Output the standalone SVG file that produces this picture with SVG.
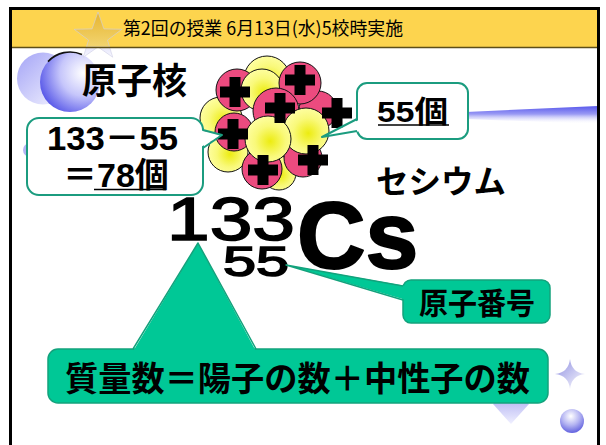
<svg xmlns="http://www.w3.org/2000/svg" width="606" height="445" viewBox="0 0 606 445">
  <defs>
    <style>
      .jp { font-family: "Noto Sans CJK JP", sans-serif; }
      .num { font-family: "Liberation Sans", "Noto Sans CJK JP", sans-serif; font-weight: bold; }
      .numlight { font-family: "Liberation Sans", sans-serif; font-weight: normal; stroke: #000; stroke-width: 1.6; }
      .bold { font-weight: bold; }
      .callout-white { fill: #ffffff; stroke: #1b9c7f; stroke-width: 2; }
      .callout-green { fill: #00c896; stroke: #13a27c; stroke-width: 1.5; }
      .ptr-white-fill { fill: #ffffff; stroke: none; }
      .ptr-green-fill { fill: #00c896; stroke: none; }
      .ptr-white-edge { fill: none; stroke: #1b9c7f; stroke-width: 2; stroke-linejoin: round; }
      .ptr-green-edge { fill: none; stroke: #13a27c; stroke-width: 1.5; stroke-linejoin: round; }
      .proton { fill: #ec4b7f; stroke: #111; stroke-width: 1; }
      .neutron { fill: url(#gNeutron); stroke: #111; stroke-width: 1; }
      .plus { fill: #000; }
      .uline { stroke: #000; stroke-width: 1.6; }
    </style>
    <radialGradient id="gNeutron" cx="0.55" cy="0.55" r="0.6">
      <stop offset="0" stop-color="#ecec10"/>
      <stop offset="0.55" stop-color="#f9f97a"/>
      <stop offset="1" stop-color="#ffffa8"/>
    </radialGradient>
    <linearGradient id="gStar" x1="0" y1="0" x2="0" y2="1">
      <stop offset="0" stop-color="#e6b42e"/>
      <stop offset="0.76" stop-color="#f2d470"/>
      <stop offset="0.775" stop-color="#e6e6fb"/>
      <stop offset="1" stop-color="#f8f8ff"/>
    </linearGradient>
    <linearGradient id="gBubbleA" x1="0" y1="0" x2="1" y2="1">
      <stop offset="0" stop-color="#a4a4f6"/>
      <stop offset="1" stop-color="#f6f6ff"/>
    </linearGradient>
    <radialGradient id="gBubbleB" cx="0.72" cy="0.35" r="0.85">
      <stop offset="0" stop-color="#ffffff"/>
      <stop offset="0.45" stop-color="#c6c6fb"/>
      <stop offset="1" stop-color="#4040e4"/>
    </radialGradient>
    <linearGradient id="gStreak" x1="0" y1="0" x2="0" y2="1">
      <stop offset="0" stop-color="#5858ec"/>
      <stop offset="0.45" stop-color="#9a9af4"/>
      <stop offset="1" stop-color="#ffffff" stop-opacity="0"/>
    </linearGradient>
    <linearGradient id="gSpark" x1="0" y1="0" x2="1" y2="1">
      <stop offset="0" stop-color="#8c8ce0"/>
      <stop offset="1" stop-color="#ffffff"/>
    </linearGradient>
    <linearGradient id="gGem" x1="0" y1="0" x2="0" y2="1">
      <stop offset="0" stop-color="#9a9aec"/>
      <stop offset="1" stop-color="#f0f0ff"/>
    </linearGradient>
    <radialGradient id="gSphere" cx="0.45" cy="0.3" r="0.75">
      <stop offset="0" stop-color="#ffffff"/>
      <stop offset="0.5" stop-color="#b4b4f2"/>
      <stop offset="1" stop-color="#5656dc"/>
    </radialGradient>
    <path id="plusShape" d="M-5.5,-15 h11 v9.5 h9.5 v11 h-9.5 v9.5 h-11 v-9.5 h-9.5 v-11 h9.5 z"/>
  </defs>

  <!-- slide background and frame -->
  <rect x="0" y="0" width="606" height="445" fill="#ffffff"/>

  <!-- decorative shapes -->
  <g id="decor">
    <circle cx="43" cy="78.5" r="26" fill="url(#gBubbleA)"/>
    <circle cx="70" cy="82" r="30" fill="url(#gBubbleB)"/>
    <path d="M48,61.6 A30,30 0 0 1 82,54.5" fill="none" stroke="#111" stroke-width="1.6"/>
    <circle cx="30" cy="150" r="7" fill="#b4b4f4"/>
    <polygon points="466,112 598,106 598,124 466,119" fill="url(#gStreak)"/>
    <path d="M570,359 Q571.5,372.5 585,374 Q571.5,375.5 570,389 Q568.5,375.5 555,374 Q568.5,372.5 570,359 Z" fill="url(#gSpark)"/>
    <polygon points="493,404 511,387 529,404 511,424" fill="url(#gGem)"/>
    <circle cx="572" cy="421" r="12" fill="url(#gSphere)"/>
  </g>

  <!-- title bar -->
  <g id="header">
    <rect x="12" y="10" width="585" height="37" fill="#fdd44e"/>
    <polygon points="98,12 103.9,28.9 121.8,29.3 107.5,40.1 112.7,57.2 98,47 83.3,57.2 88.5,40.1 74.2,29.3 92.1,28.9" fill="url(#gStar)" stroke="#cfcfe4" stroke-width="0.6"/>
    <line x1="12" y1="47.5" x2="597" y2="47.5" stroke="#5e4e18" stroke-width="1.5"/>
    <text class="jp" x="123" y="35" font-size="18" fill="#000" textLength="280" lengthAdjust="spacingAndGlyphs">第2回の授業 6月13日(水)5校時実施</text>
  </g>

  <rect x="10.5" y="8.5" width="588" height="445" fill="none" stroke="#000" stroke-width="3"/>

  <!-- nucleus: protons (pink, +) and neutrons (yellow) -->
  <g id="nucleus">
    <circle class="neutron" cx="267" cy="79" r="23"/>
    <circle class="neutron" cx="221" cy="118" r="21"/>
    <circle class="neutron" cx="228" cy="152" r="20"/>
    <circle class="neutron" cx="279" cy="173" r="17"/>
    <circle class="proton" cx="318" cy="110" r="19"/>
    <circle class="proton" cx="303" cy="158" r="19"/>
    <circle class="proton" cx="237" cy="90" r="21"/>
    <circle class="neutron" cx="262" cy="90" r="21"/>
    <circle class="proton" cx="300" cy="83" r="21"/>
    <circle class="proton" cx="276" cy="111" r="23"/>
    <circle class="neutron" cx="306" cy="131" r="23"/>
    <circle class="proton" cx="234" cy="132" r="19"/>
    <circle class="proton" cx="262" cy="169" r="20"/>
    <circle class="neutron" cx="268" cy="139" r="23"/>
    <use href="#plusShape" class="plus" x="235" y="92"/>
    <use href="#plusShape" class="plus" x="300" y="80"/>
    <use href="#plusShape" class="plus" x="280" y="108"/>
    <use href="#plusShape" class="plus" x="337" y="113"/>
    <use href="#plusShape" class="plus" x="233" y="134"/>
    <use href="#plusShape" class="plus" x="263" y="170"/>
    <use href="#plusShape" class="plus" x="313" y="160"/>
  </g>

  <g id="label-nucleus">
    <text class="jp bold" x="82" y="94" font-size="36" textLength="105" lengthAdjust="spacingAndGlyphs">原子核</text>
  </g>

  <g id="callout-neutrons">
    <rect class="callout-white" x="27" y="118" width="176" height="77" rx="12"/>
    <text class="num" x="47" y="150" font-size="34" textLength="131" lengthAdjust="spacingAndGlyphs">133－55</text>
    <text class="num" x="63" y="187" font-size="34">＝78個</text>
    <line class="uline" x1="94" y1="189.5" x2="166" y2="189.5"/>
  </g>

  <g id="callout-protons">
    <rect class="callout-white" x="357" y="83" width="111" height="56" rx="10"/>
    <text class="num" x="377" y="122" font-size="30" textLength="71" lengthAdjust="spacingAndGlyphs">55個</text>
    <line class="uline" x1="378" y1="125" x2="449" y2="125"/>
  </g>

  <g id="label-cesium">
    <text class="jp bold" x="376" y="193" font-size="32" textLength="130" lengthAdjust="spacingAndGlyphs">セシウム</text>
  </g>

  <g id="symbol">
    <text class="numlight" x="167" y="240" font-size="62" textLength="128" lengthAdjust="spacingAndGlyphs">133</text>
    <text class="numlight" x="223" y="276" font-size="42" textLength="66" lengthAdjust="spacingAndGlyphs">55</text>
    <text class="num" x="297" y="268" font-size="95" stroke="#000" stroke-width="2" stroke-linejoin="round">Cs</text>
  </g>

  <g id="callout-atomic-number">
    <rect class="callout-green" x="403" y="280" width="147" height="43" rx="8"/>
    <text class="jp bold" x="419" y="314" font-size="30" textLength="116" lengthAdjust="spacingAndGlyphs">原子番号</text>
  </g>

  <g id="callout-mass-number">
    <rect class="callout-green" x="48" y="349" width="500" height="54" rx="10"/>
    <text class="jp bold" x="65" y="391" font-size="34" textLength="465" lengthAdjust="spacingAndGlyphs">質量数＝陽子の数＋中性子の数</text>
  </g>

  <!-- callout pointers -->
  <g id="connectors">
    <g id="ptr-neutrons">
      <polygon class="ptr-white-fill" points="199,130 222,135 199,148"/>
      <polyline class="ptr-white-edge" points="203,130 222,135 203,148"/>
    </g>
    <g id="ptr-protons">
      <polygon class="ptr-white-fill" points="361,119 322,137 361,131"/>
      <polyline class="ptr-white-edge" points="357,119 322,137 357,131"/>
    </g>
    <g id="ptr-atomic-number">
      <polygon class="ptr-green-fill" points="406,286 286,265 406,300"/>
      <polyline class="ptr-green-edge" points="403,286 286,265 403,300"/>
    </g>
    <g id="ptr-mass-number">
      <polygon class="ptr-green-fill" points="132,353 198,243 257,353"/>
      <polyline class="ptr-green-edge" points="133,349 198,243 256,349"/>
    </g>
  </g>
</svg>
